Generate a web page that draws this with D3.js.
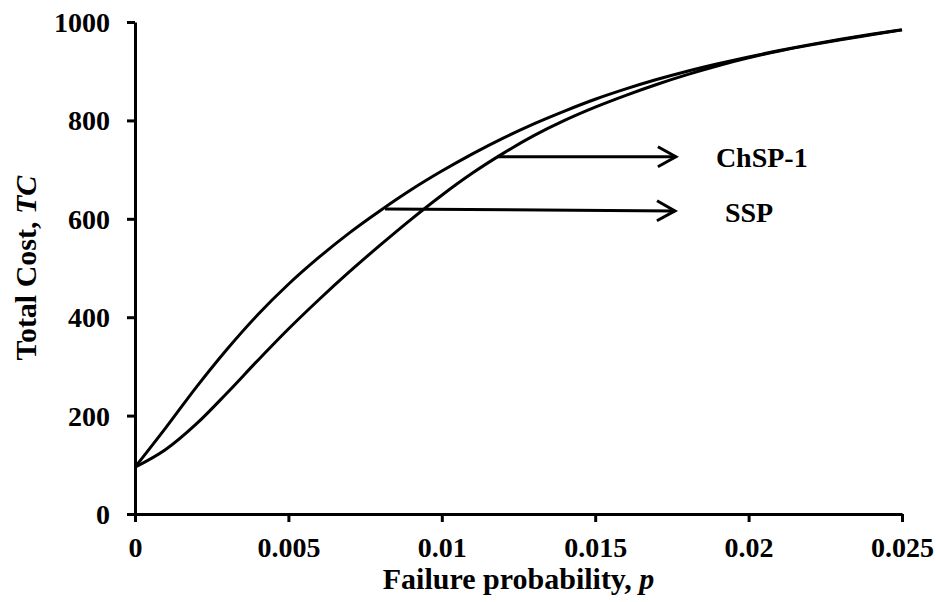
<!DOCTYPE html>
<html>
<head>
<meta charset="utf-8">
<script src="https://cdn.jsdelivr.net/npm/d3@7"></script>
<style>
  body { margin: 0; background: #fff; }
  text { font-family: "Liberation Serif", "Times New Roman", serif; font-weight: bold; fill: #000; }
</style>
</head>
<body>
<script>
// failure probability p, and total cost TC
const pValues = [0, 0.001, 0.002, 0.003, 0.004, 0.005, 0.006, 0.007, 0.008, 0.009, 0.010, 0.011, 0.012,
  0.013, 0.014, 0.015, 0.016, 0.017, 0.018, 0.019, 0.020, 0.021, 0.022, 0.023, 0.024, 0.025];
const ssp = [95, 175, 258, 335, 405, 467, 522, 572, 617, 659, 697, 732, 764,
  793, 819, 843, 864, 883, 900, 915, 929, 942, 954, 965, 975, 984];
const chsp1 = [95, 131, 183, 246, 312, 376, 436, 493, 547, 599, 648, 693, 733,
  769, 800, 827, 851, 873, 893, 911, 927, 941, 953, 964, 974, 984];

const xTicks = [0, 0.005, 0.01, 0.015, 0.02, 0.025];
const xTickLabels = ["0", "0.005", "0.01", "0.015", "0.02", "0.025"];
const yTicks = [0, 200, 400, 600, 800, 1000];

// arrow labels: [name, start p, start TC, end p, end TC]
const arrows = [
  ["ChSP-1", 0.0118, 726, 0.01763, 726],
  ["SSP", 0.00815, 620, 0.0176, 616]
];

function main() {
  const width = 936, height = 602;
  const svg = d3.select("body").append("svg")
    .attr("width", width)
    .attr("height", height);

  const x = d3.scaleLinear().domain([0, 0.025]).range([135, 902]);
  const y = d3.scaleLinear().domain([0, 1000]).range([514, 22]);

  // arrow head
  svg.append("defs").append("marker")
    .attr("id", "head")
    .attr("markerUnits", "userSpaceOnUse")
    .attr("markerWidth", 26)
    .attr("markerHeight", 26)
    .attr("refX", 21)
    .attr("refY", 12)
    .attr("orient", "auto")
    .append("path")
    .attr("d", "M3,2 L21,12 L3,22")
    .attr("fill", "none")
    .attr("stroke", "#000")
    .attr("stroke-width", 3);

  const xAxis = svg.append("g")
    .attr("transform", `translate(0,${y(0)})`)
    .call(d3.axisBottom(x).tickValues(xTicks).tickFormat((d, i) => xTickLabels[i]).tickSize(8).tickSizeOuter(0));
  const yAxis = svg.append("g")
    .attr("transform", `translate(${x(0)},0)`)
    .call(d3.axisLeft(y).tickValues(yTicks).tickFormat(d3.format("d")).tickSize(8).tickSizeOuter(0));

  [xAxis, yAxis].forEach(a => {
    a.select(".domain").attr("stroke", "#000").attr("stroke-width", 3);
    a.selectAll(".tick line").attr("stroke", "#000").attr("stroke-width", 3);
    a.selectAll(".tick text")
      .attr("font-family", null)
      .style("font-size", "28px");
  });
  xAxis.selectAll(".tick text").attr("dy", null).attr("y", 43);
  yAxis.selectAll(".tick text").attr("x", -25).attr("dy", "0.34em");

  const line = d3.line()
    .x((d, i) => x(pValues[i]))
    .y(d => y(d))
    .curve(d3.curveMonotoneX);

  [ssp, chsp1].forEach(s => {
    svg.append("path")
      .attr("d", line(s))
      .attr("fill", "none")
      .attr("stroke", "#000")
      .attr("stroke-width", 3);
  });

  arrows.forEach(a => {
    svg.append("line")
      .attr("x1", x(a[1])).attr("y1", y(a[2]))
      .attr("x2", x(a[3])).attr("y2", y(a[4]))
      .attr("stroke", "#000")
      .attr("stroke-width", 3)
      .attr("marker-end", "url(#head)");
  });
  svg.append("text")
    .attr("x", x(0.01763) + 40).attr("y", y(726) + 10)
    .style("font-size", "28px")
    .text(arrows[0][0]);
  svg.append("text")
    .attr("x", x(0.0176) + 50).attr("y", y(616) + 11)
    .style("font-size", "28px")
    .text(arrows[1][0]);

  // axis titles
  const xt = svg.append("text")
    .attr("x", (x(0) + x(0.025)) / 2)
    .attr("y", 589)
    .attr("text-anchor", "middle")
    .style("font-size", "30px");
  xt.append("tspan").text("Failure probability, ");
  xt.append("tspan").attr("font-style", "italic").text("p");

  const yt = svg.append("text")
    .attr("transform", `translate(36,${(y(0) + y(1000)) / 2}) rotate(-90)`)
    .attr("text-anchor", "middle")
    .style("font-size", "30px");
  yt.append("tspan").text("Total Cost, ");
  yt.append("tspan").attr("font-style", "italic").text("TC");
}

main();
</script>
</body>
</html>
